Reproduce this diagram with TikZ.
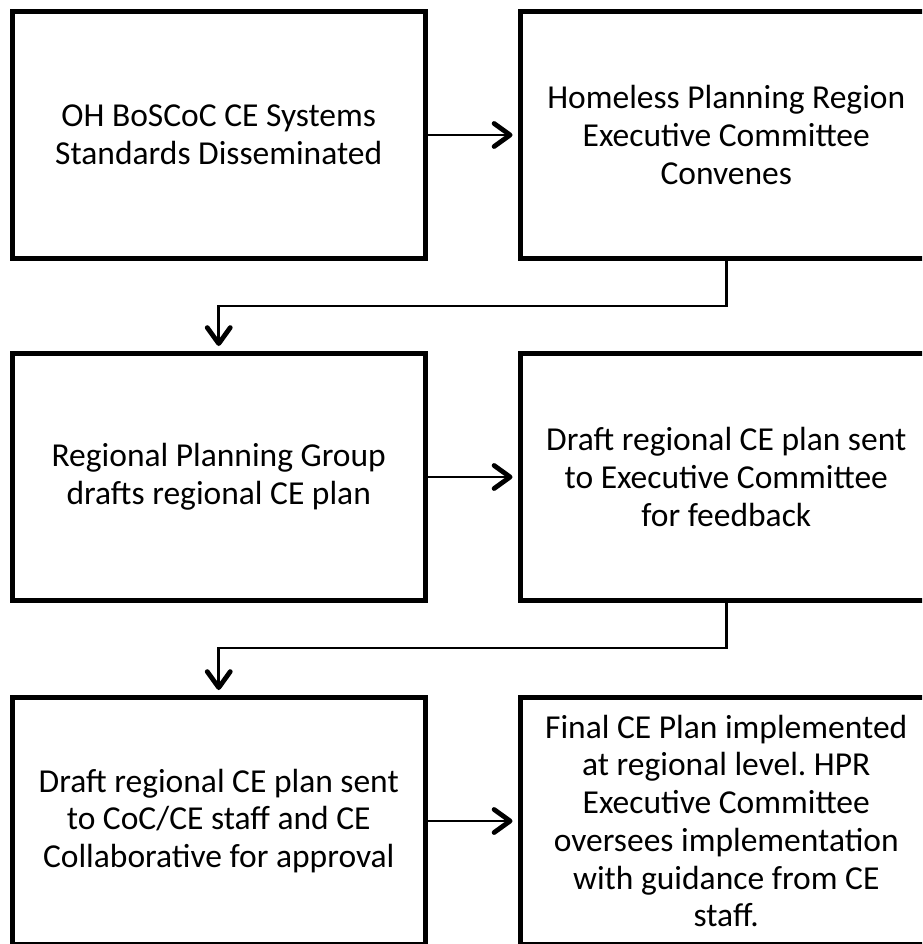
\documentclass[tikz,border=0pt]{standalone}
\usepackage{fontspec}
\setmainfont{Carlito}
\frenchspacing
\usetikzlibrary{arrows.meta}
\tikzset{
  stepbox/.style={draw=black, line width=5pt, minimum width=412.5pt, minimum height=247pt,
    align=center, inner sep=0pt, font=\fontsize{33.5}{37.7}\selectfont},
  conn/.style={draw=black, line width=2.8pt,
    -{Straight Barb[length=16pt,width=23pt,line width=4.8pt,round]}, shorten >=5pt}
}
\begin{document}
\begin{tikzpicture}[x=1pt,y=-1pt]
\useasboundingbox (0,0) rectangle (922,944);
\clip (0,0) rectangle (922,944);
\node[stepbox] (a) at (218.75,135) {OH BoSCoC CE Systems\\Standards Disseminated};
\node[stepbox] (b) at (726.25,135) {Homeless Planning Region\\Executive Committee\\Convenes};
\node[stepbox] (c) at (218.75,477) {Regional Planning Group\\drafts regional CE plan};
\node[stepbox] (d) at (726.25,477) {Draft regional CE plan sent\\to Executive Committee\\for feedback};
\node[stepbox] (e) at (218.75,821) {Draft regional CE plan sent\\to CoC/CE staff and CE\\Collaborative for approval};
\node[stepbox] (f) at (726.25,821) {Final CE Plan implemented\\at regional level. HPR\\Executive Committee\\oversees implementation\\with guidance from CE\\staff.};
\draw[conn] (a.east) -- (b.west);
\draw[conn] (c.east) -- (d.west);
\draw[conn] (e.east) -- (f.west);
\draw[conn] (b.south) -- ++(0,45) -| (c.north);
\draw[conn] (d.south) -- ++(0,45) -| (e.north);
\end{tikzpicture}
\end{document}
